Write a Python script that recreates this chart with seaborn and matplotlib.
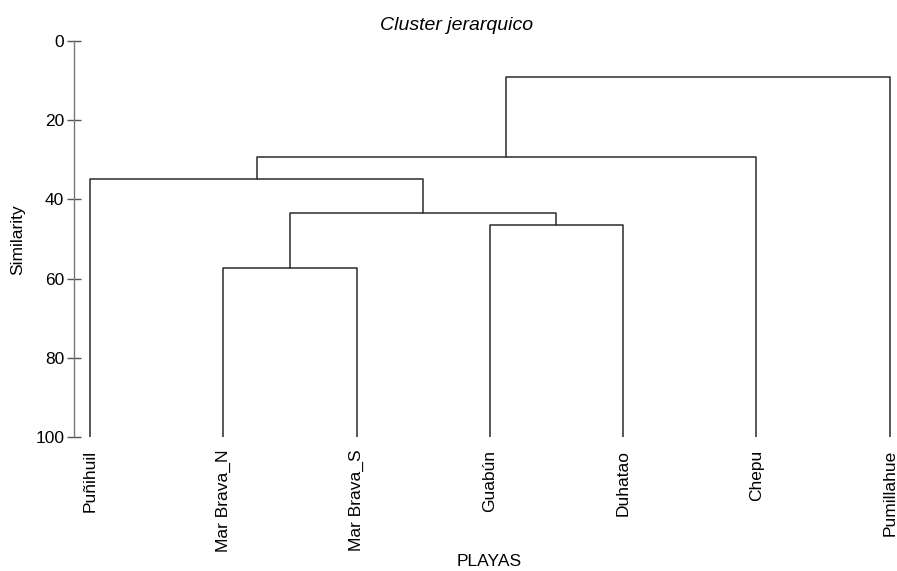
import matplotlib
matplotlib.use("Agg")
import matplotlib.pyplot as plt
import seaborn as sns
import pandas as pd

# Beaches (dendrogram leaf order)
leaves = ["Puñihuil", "Mar Brava_N", "Mar Brava_S", "Guabún", "Duhatao", "Chepu", "Pumillahue"]

# Agglomeration steps: node ids 0..6 are leaves, each merge creates node 7, 8, ...
merge_left = [1, 3, 7, 0, 10, 11]
merge_right = [2, 4, 8, 9, 5, 6]
merge_similarity = [57.3, 46.5, 43.4, 34.8, 29.3, 9.1]

yticks = [0, 20, 40, 60, 80, 100]

# Build the U-shaped link segments of the dendrogram
node_x = {i: float(i) for i in range(len(leaves))}
node_y = {i: 100.0 for i in range(len(leaves))}
rows = []
for k, (a, b, h) in enumerate(zip(merge_left, merge_right, merge_similarity)):
    pts = [(node_x[a], node_y[a]), (node_x[a], h), (node_x[b], h), (node_x[b], node_y[b])]
    for order, (px, py) in enumerate(pts):
        rows.append({"link": k, "order": order, "x": px, "y": py})
    new_id = len(leaves) + k
    node_x[new_id] = (node_x[a] + node_x[b]) / 2
    node_y[new_id] = h
links = pd.DataFrame(rows)

sns.set_style("white")
plt.rcParams["font.family"] = ["Liberation Sans", "DejaVu Sans"]
plt.rcParams["text.color"] = "black"
plt.rcParams["xtick.color"] = "black"
plt.rcParams["ytick.color"] = "black"

W, H = 897, 571
fig = plt.figure(figsize=(W / 100, H / 100), dpi=100)
ax_left, ax_right, ax_top, ax_bottom = 74, 895, 41, 437
ax = fig.add_axes([ax_left / W, 1 - ax_bottom / H, (ax_right - ax_left) / W, (ax_bottom - ax_top) / H])

sns.lineplot(data=links, x="x", y="y", units="link", estimator=None, sort=False,
             color="#2b2b2b", linewidth=1.1, ax=ax, legend=False)

fs = 12.5
ax.set_ylim(100, 0)
ax.set_xlim(-0.12, 6.04)
ax.set_yticks(yticks)
ax.set_yticklabels([str(t) for t in yticks], fontsize=fs)
ax.set_xticks(range(len(leaves)))
ax.set_xticklabels(leaves, rotation=90, fontsize=fs, va="top", ha="center")

for side in ["top", "right", "bottom"]:
    ax.spines[side].set_visible(False)
ax.spines["left"].set_color("#777777")
ax.spines["left"].set_linewidth(1.0)
ax.tick_params(axis="y", left=True, direction="inout", length=10, width=1.0,
               color="#555555", labelcolor="black", pad=2)
ax.tick_params(axis="x", bottom=False, length=0, pad=9, labelcolor="black")

ax.set_xlabel("")
ax.set_ylabel("")
fig.text(489 / W, 1 - 561 / H, "PLAYAS", ha="center", va="center", fontsize=fs)
fig.text(18 / W, 1 - 240 / H, "Similarity", ha="center", va="center", rotation=90, fontsize=fs)
fig.text(457 / W, 1 - 25 / H, "Cluster jerarquico", ha="center", va="center",
         fontsize=14, style="italic")

fig.savefig("out.png", dpi=100)
